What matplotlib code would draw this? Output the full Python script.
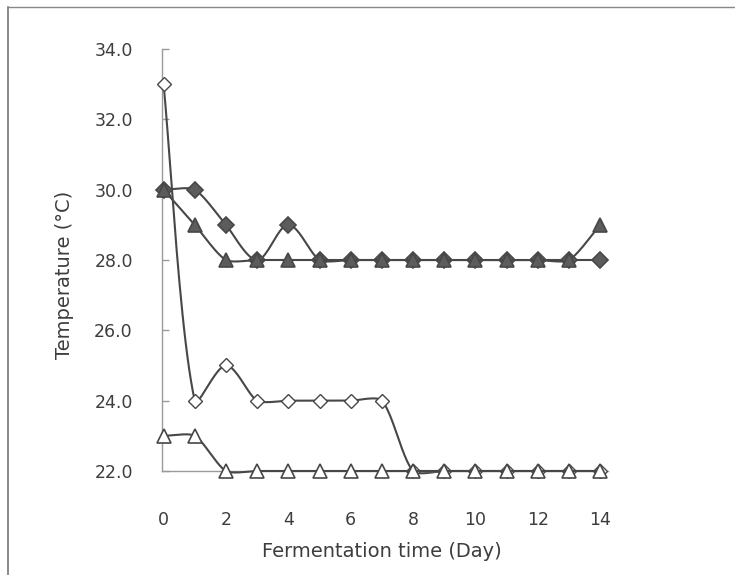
import numpy as np
import matplotlib
matplotlib.use("Agg")
import matplotlib.pyplot as plt
from matplotlib.lines import Line2D

days = list(range(15))
filled_diamond = [30, 30, 29, 28, 29, 28, 28, 28, 28, 28, 28, 28, 28, 28, 28]
filled_triangle = [30, 29, 28, 28, 28, 28, 28, 28, 28, 28, 28, 28, 28, 28, 29]
open_diamond = [33, 24, 25, 24, 24, 24, 24, 24, 22, 22, 22, 22, 22, 22, 22]
open_triangle = [23, 23, 22, 22, 22, 22, 22, 22, 22, 22, 22, 22, 22, 22, 22]
xticks = [0, 2, 4, 6, 8, 10, 12, 14]
yticks = [22, 24, 26, 28, 30, 32, 34]
ytick_labels = ["22.0", "24.0", "26.0", "28.0", "30.0", "32.0", "34.0"]

# axes geometry (pixels)
X0, X1, Y0, Y1 = 162, 608, 49, 471
XMIN, XMAX, YMIN, YMAX = -0.05, 14.25, 22, 34
SX = (X1 - X0) / (XMAX - XMIN)
SY = (Y1 - Y0) / (YMAX - YMIN)


def smooth(x, y, k=0.22, n=24):
    # smoothed line drawn as cubic Bezier segments, computed in screen space
    P = np.column_stack([np.asarray(x, float) * SX, np.asarray(y, float) * SY])
    Pe = np.vstack([P[0], P, P[-1]])
    t = np.linspace(0, 1, n)[:, None]
    out = []
    for i in range(1, len(Pe) - 2):
        p0, p1, p2, p3 = Pe[i - 1], Pe[i], Pe[i + 1], Pe[i + 2]
        L = np.linalg.norm(p2 - p1)
        d1 = p2 - p0
        d2 = p3 - p1
        d1 = d1 / (np.linalg.norm(d1) or 1)
        d2 = d2 / (np.linalg.norm(d2) or 1)
        c1 = p1 + k * L * d1
        c2 = p2 - k * L * d2
        pts = (1 - t) ** 3 * p1 + 3 * (1 - t) ** 2 * t * c1 + 3 * (1 - t) * t ** 2 * c2 + t ** 3 * p2
        out.append(pts)
    pts = np.vstack(out)
    return pts[:, 0] / SX, pts[:, 1] / SY


fig = plt.figure(figsize=(7.35, 5.75), dpi=100)
ax = fig.add_axes([X0 / 735, 1 - Y1 / 575, (X1 - X0) / 735, (Y1 - Y0) / 575])

line_c = "#474747"
fill_c = "#5c5c5c"
text_c = "#3d3d3d"

series = [
    (open_diamond, "D", "white", 7.5, 1.0),
    (open_triangle, "^", "white", 10.0, 1.2),
    (filled_diamond, "D", fill_c, 8.0, 1.2),
    (filled_triangle, "^", fill_c, 10.5, 1.2),
]
for i, (vals, mk, fc, ms, mew) in enumerate(series):
    sx, sy = smooth(days, vals)
    ax.plot(sx, sy, color=line_c, lw=1.5, zorder=2 + i * 2, clip_on=False)
    ax.plot(days, vals, linestyle="none", marker=mk, markersize=ms,
            markerfacecolor=fc, markeredgecolor=line_c, markeredgewidth=mew,
            zorder=3 + i * 2, clip_on=False)

ax.set_xlim(XMIN, XMAX)
ax.set_ylim(YMIN, YMAX)
ax.set_xticks(xticks)
ax.set_xticklabels([str(v) for v in xticks])
ax.set_yticks(yticks)
ax.set_yticklabels(ytick_labels)

for s in ["top", "right"]:
    ax.spines[s].set_visible(False)
ax.spines["left"].set_color("#9a9a9a")
ax.spines["bottom"].set_color("#9a9a9a")
ax.spines["left"].set_linewidth(1.0)
ax.spines["bottom"].set_linewidth(1.0)

ax.tick_params(axis="y", direction="in", length=5, width=1, color="#9a9a9a",
               pad=21, labelsize=12.5, labelcolor=text_c)
ax.tick_params(axis="x", length=0, pad=29, labelsize=12.5, labelcolor=text_c)

ax.set_xlabel("Fermentation time (Day)", fontsize=14, color=text_c)
ax.set_ylabel("Temperature (\u00b0C)", fontsize=14, color=text_c)
ax.xaxis.set_label_coords((382 - X0) / (X1 - X0), -(542 - Y1) / (Y1 - Y0))
ax.yaxis.set_label_coords(-(X0 - 74) / (X1 - X0), (Y1 - 275) / (Y1 - Y0))

# scanned page frame
fig.add_artist(Line2D([8 / 735, 8 / 735], [0, 1 - 7 / 575], color="#777777", lw=1.2))
fig.add_artist(Line2D([8 / 735, 1], [1 - 7 / 575, 1 - 7 / 575], color="#888888", lw=1.0))

fig.savefig("out.png", dpi=100)
